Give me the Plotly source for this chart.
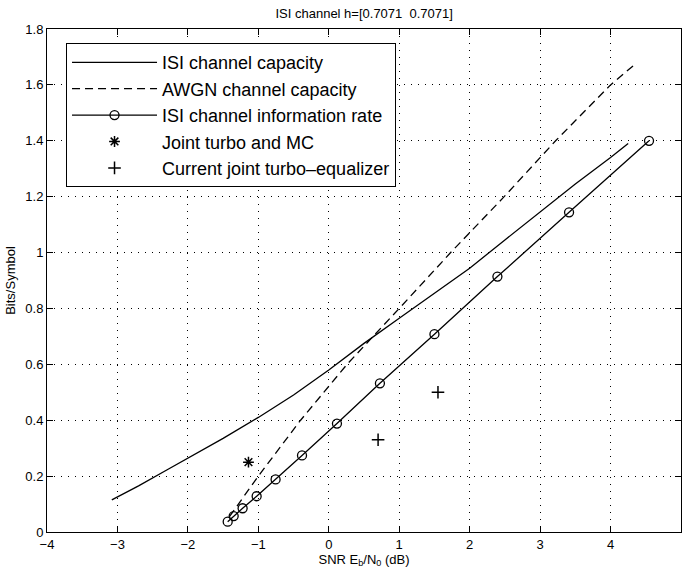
import plotly.graph_objects as go

# ISI channel capacity (solid)
cap_x = [-3.08, -2.7, -2.3, -2.0, -1.5, -1.0, -0.5, 0.0, 0.5, 1.0, 1.5, 2.0, 2.5, 3.0, 3.5, 4.0, 4.25]
cap_y = [0.115, 0.165, 0.222, 0.265, 0.335, 0.41, 0.49, 0.58, 0.675, 0.765, 0.855, 0.944, 1.045, 1.144, 1.245, 1.34, 1.39]

# AWGN channel capacity (dashed)
awgn_x = [-1.41, -1.0, -0.40, 0.26, 1.0, 1.73, 2.49, 3.22, 4.0, 4.32]
awgn_y = [0.055, 0.2, 0.4, 0.6, 0.8, 1.0, 1.2, 1.4, 1.6, 1.668]

# ISI channel information rate (circles)
rate_x = [-1.435, -1.35, -1.223, -1.024, -0.755, -0.38, 0.116, 0.726, 1.50, 2.394, 3.411, 4.546]
rate_y = [0.037, 0.057, 0.085, 0.128, 0.188, 0.274, 0.388, 0.532, 0.708, 0.914, 1.144, 1.40]

# Joint turbo and MC
mc_x = [-1.14]
mc_y = [0.25]

# Current joint turbo-equalizer
eq_x = [0.70, 1.55]
eq_y = [0.33, 0.50]

x_ticks = [-4, -3, -2, -1, 0, 1, 2, 3, 4, 5]
y_ticks = [0, 0.2, 0.4, 0.6, 0.8, 1, 1.2, 1.4, 1.6, 1.8]
y_ticktext = ["0", "0.2", "0.4", "0.6", "0.8", "1", "1.2", "1.4", "1.6", "1.8"]

FONT = "Liberation Sans, Arial, sans-serif"

fig = go.Figure()
fig.add_trace(go.Scatter(x=cap_x, y=cap_y, mode="lines", name="ISI channel capacity",
                         line=dict(color="black", width=1.3)))
fig.add_trace(go.Scatter(x=awgn_x, y=awgn_y, mode="lines", name="AWGN channel capacity",
                         line=dict(color="black", width=1.3, dash="8px,5px")))
fig.add_trace(go.Scatter(x=rate_x, y=rate_y, mode="lines+markers", name="ISI channel information rate",
                         line=dict(color="black", width=1.3),
                         marker=dict(symbol="circle-open", size=9, color="black", line=dict(width=1.3))))
fig.add_trace(go.Scatter(x=mc_x, y=mc_y, mode="markers", name="Joint turbo and MC",
                         marker=dict(symbol="asterisk-open", size=9, color="black", line=dict(width=1.5))))
fig.add_trace(go.Scatter(x=eq_x, y=eq_y, mode="markers", name="Current joint turbo\u2013equalizer",
                         marker=dict(symbol="cross-thin-open", size=9, color="black", line=dict(width=1.5))))

axis_common = dict(
    showline=True, linecolor="black", linewidth=1, mirror="ticks",
    ticks="inside", ticklen=6, tickcolor="black", tickwidth=1,
    showgrid=True, gridcolor="black", gridwidth=1, griddash="1px,6px",
    zeroline=False, tickfont=dict(family=FONT, size=13, color="black"),
)

fig.update_xaxes(range=[-4, 5], tickvals=x_ticks, **axis_common,
                 title=dict(text="SNR E<sub>b</sub>/N<sub>0</sub> (dB)",
                            font=dict(family=FONT, size=13, color="black"), standoff=2))
fig.update_yaxes(range=[0, 1.8], tickvals=y_ticks, ticktext=y_ticktext, **axis_common,
                 title=dict(text="Bits/Symbol", font=dict(family=FONT, size=13, color="black"), standoff=6))

fig.update_layout(
    width=682, height=573,
    margin=dict(l=47, r=1, t=29, b=41),
    paper_bgcolor="white", plot_bgcolor="white",
    title=dict(text="ISI channel h=[0.7071&nbsp;&nbsp;0.7071]", x=0.534, xanchor="center",
               y=1 - 13 / 573, yanchor="middle", font=dict(family=FONT, size=13, color="black")),
    legend=dict(x=0.03, y=0.972, xanchor="left", yanchor="top",
                bgcolor="white", bordercolor="black", borderwidth=1,
                font=dict(family=FONT, size=18, color="black"),
                itemwidth=85, tracegroupgap=0),
    showlegend=True,
)

fig.write_html("out.html")
